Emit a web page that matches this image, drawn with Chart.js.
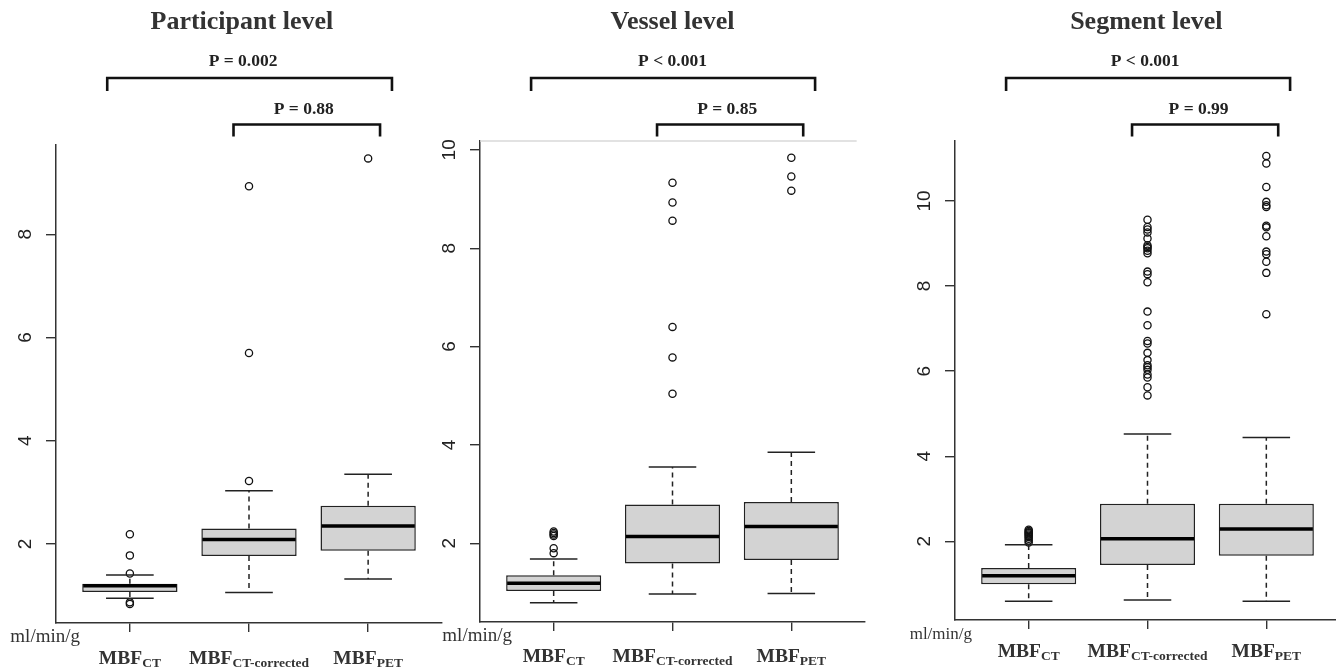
<!DOCTYPE html>
<html>
<head>
<meta charset="utf-8">
<script src="https://cdn.jsdelivr.net/npm/chart.js@4.4.1/dist/chart.umd.min.js"></script>
<style>
  body { margin: 0; background: #fff; overflow: hidden; width: 1336px; height: 667px; position: relative; }
  canvas { position: absolute; left: 0; top: 0; }
</style>
</head>
<body>
<canvas id="c1" width="1350" height="667"></canvas>
<canvas id="c2" width="1350" height="667"></canvas>
<canvas id="c3" width="1350" height="667"></canvas>
<script>
// groups on the x axis (MBF_CT, MBF_CT-corrected, MBF_PET)
const groupPos = [1, 2, 3];
const groupSubs = ["CT", "CT-corrected", "PET"];

// Participant level
const partLow = [0.95, 1.06, 1.32];
const partQ1 = [1.07, 1.77, 1.87];
const partMed = [1.19, 2.09, 2.35];
const partQ3 = [1.23, 2.30, 2.74];
const partHigh = [1.40, 3.03, 3.35];
const partOut = [[0.84, 0.87, 1.43, 1.78, 2.19], [3.22, 5.70, 8.93], [9.47]];
const partTicks = [2, 4, 6, 8];
const partP = ["P = 0.002", "P = 0.88"];

// Vessel level
const vesLow = [0.79, 0.97, 0.98];
const vesQ1 = [1.03, 1.59, 1.66];
const vesMed = [1.19, 2.14, 2.34];
const vesQ3 = [1.35, 2.79, 2.84];
const vesHigh = [1.68, 3.55, 3.85];
const vesOut = [[1.80, 1.90, 2.15, 2.18, 2.21, 2.24], [5.04, 5.78, 6.40, 8.56, 8.93, 9.33], [9.17, 9.46, 9.84]];
const vesTicks = [2, 4, 6, 8, 10];
const vesP = ["P < 0.001", "P = 0.85"];

// Segment level
const segLow = [0.59, 0.62, 0.59];
const segQ1 = [0.99, 1.44, 1.66];
const segMed = [1.19, 2.06, 2.29];
const segQ3 = [1.37, 2.88, 2.88];
const segHigh = [1.92, 4.52, 4.44];
const segOut = [
  [1.97, 2.02, 2.06, 2.10, 2.13, 2.16, 2.19, 2.21, 2.24, 2.27],
  [5.43, 5.62, 5.85, 5.92, 6.03, 6.09, 6.14, 6.26, 6.43, 6.65, 6.71, 7.08, 7.40,
   8.09, 8.28, 8.34, 8.77, 8.83, 8.89, 8.92, 8.96, 9.12, 9.26, 9.33, 9.39, 9.56],
  [7.34, 8.31, 8.57, 8.75, 8.81, 9.17, 9.38, 9.42, 9.86, 9.90, 9.98, 10.33, 10.88, 11.06]
];
const segTicks = [2, 4, 6, 8, 10];
const segP = ["P < 0.001", "P = 0.99"];

const CANVAS_W = 1350, CANVAS_H = 667;
const Y_AXIS_W = 50, X_AXIS_H = 30;
const SERIF = "'Liberation Serif', 'Times New Roman', serif";

function line(ctx, x1, y1, x2, y2) {
  ctx.beginPath();
  ctx.moveTo(x1, y1);
  ctx.lineTo(x2, y2);
  ctx.stroke();
}

// median, whiskers and caps drawn from the bar elements + y scale
function boxPlugin(p) {
  return {
    id: "boxParts",
    afterDatasetsDraw(chart) {
      const ctx = chart.ctx;
      const ys = chart.scales.y;
      const meta = chart.getDatasetMeta(1);
      ctx.save();
      meta.data.forEach((bar, i) => {
        const cx = bar.x;
        const hw = bar.width / 2;
        const yMed = ys.getPixelForValue(p.med[i]);
        const yQ1 = ys.getPixelForValue(p.q1[i]);
        const yQ3 = ys.getPixelForValue(p.q3[i]);
        const yLo = ys.getPixelForValue(p.low[i]);
        const yHi = ys.getPixelForValue(p.high[i]);

        ctx.strokeStyle = "#222";
        ctx.lineWidth = 1.5;
        ctx.setLineDash([5, 4]);
        line(ctx, cx, yQ3, cx, yHi);
        line(ctx, cx, yQ1, cx, yLo);
        ctx.setLineDash([]);
        line(ctx, cx - hw / 2, yHi, cx + hw / 2, yHi);
        line(ctx, cx - hw / 2, yLo, cx + hw / 2, yLo);

        ctx.strokeStyle = "#000";
        ctx.lineWidth = 3.5;
        line(ctx, cx - hw + 1, yMed, cx + hw - 1, yMed);
      });
      ctx.restore();
    }
  };
}

// titles, brackets, p-values and the subscript axis labels
function annotPlugin(p) {
  return {
    id: "annot",
    afterDraw(chart) {
      const ctx = chart.ctx;
      const xs = chart.scales.x;
      const area = chart.chartArea;
      ctx.save();

      if (p.topRule) {
        ctx.strokeStyle = "#d9d9d9";
        ctx.lineWidth = 1.5;
        line(ctx, area.left, area.top, xs.getPixelForValue(3.55), area.top);
      }

      ctx.fillStyle = "#333";
      ctx.textAlign = "center";
      ctx.textBaseline = "alphabetic";
      ctx.font = "bold 26px " + SERIF;
      ctx.fillText(p.title, xs.getPixelForValue(p.titleX), 29);

      // brackets
      ctx.strokeStyle = "#111";
      ctx.lineWidth = 2.6;
      const brackets = [
        { from: 0.81, to: 3.2, y: 78, drop: 13, text: p.pvals[0], tx: p.ptextX[0], ty: 66 },
        { from: 1.87, to: 3.1, y: 124.5, drop: 12, text: p.pvals[1], tx: p.ptextX[1], ty: 114 }
      ];
      brackets.forEach(b => {
        const x1 = xs.getPixelForValue(b.from);
        const x2 = xs.getPixelForValue(b.to);
        ctx.beginPath();
        ctx.moveTo(x1, b.y + b.drop);
        ctx.lineTo(x1, b.y);
        ctx.lineTo(x2, b.y);
        ctx.lineTo(x2, b.y + b.drop);
        ctx.stroke();
        ctx.fillStyle = "#222";
        ctx.font = "bold 17.5px " + SERIF;
        ctx.fillText(b.text, xs.getPixelForValue(b.tx), b.ty);
      });

      // x labels: MBF with subscript
      ctx.fillStyle = "#333";
      ctx.textAlign = "left";
      groupPos.forEach((g, i) => {
        const cx = xs.getPixelForValue(g);
        ctx.font = "bold 19.5px " + SERIF;
        const wMain = ctx.measureText("MBF").width;
        ctx.font = "bold 13.5px " + SERIF;
        const wSub = ctx.measureText(groupSubs[i]).width;
        const left = cx - (wMain + wSub) / 2;
        const base = area.bottom + p.labelOff;
        ctx.font = "bold 19.5px " + SERIF;
        ctx.fillText("MBF", left, base);
        ctx.font = "bold 13.5px " + SERIF;
        ctx.fillText(groupSubs[i], left + wMain, base + 3);
      });

      // unit label
      ctx.textAlign = "right";
      ctx.fillStyle = "#333";
      ctx.font = p.unitSize + "px " + SERIF;
      ctx.fillText("ml/min/g", area.left + p.unitRight, area.bottom + 19);

      ctx.restore();
    }
  };
}

function makePanel(id, p) {
  const a = p.area;
  const boxData = groupPos.map((g, i) => ({ x: g, y: [p.q1[i], p.q3[i]] }));
  const outData = [];
  p.out.forEach((vals, i) => vals.forEach(v => outData.push({ x: groupPos[i], y: v })));

  new Chart(document.getElementById(id), {
    type: "bar",
    data: {
      datasets: [
        {
          type: "scatter",
          data: outData,
          pointStyle: "circle",
          pointRadius: 3.6,
          pointBorderWidth: 1.3,
          pointBorderColor: "#111",
          pointBackgroundColor: "rgba(0,0,0,0)"
        },
        {
          type: "bar",
          data: boxData,
          backgroundColor: "#d3d3d3",
          borderColor: "#222",
          borderWidth: 1.5,
          borderSkipped: false,
          categoryPercentage: 0.8,
          barPercentage: 1
        }
      ]
    },
    options: {
      responsive: false,
      animation: false,
      events: [],
      layout: {
        padding: {
          left: a.left - Y_AXIS_W,
          right: CANVAS_W - a.right,
          top: a.top,
          bottom: CANVAS_H - a.bottom - X_AXIS_H
        }
      },
      plugins: { legend: { display: false }, tooltip: { enabled: false } },
      scales: {
        x: {
          type: "linear",
          min: 0.38,
          max: 3.62,
          offset: false,
          afterBuildTicks: s => { s.ticks = groupPos.map(v => ({ value: v })); },
          afterFit: s => { s.height = X_AXIS_H; },
          grid: { offset: false, drawOnChartArea: false, drawTicks: true, tickLength: 9, color: "#333", lineWidth: 1.4 },
          border: { display: true, color: "#333", width: 1.5 },
          ticks: { callback: () => "" }
        },
        y: {
          type: "linear",
          min: p.yMin,
          max: p.yMax,
          afterBuildTicks: s => { s.ticks = p.ticks.map(v => ({ value: v })); },
          afterFit: s => { s.width = Y_AXIS_W; },
          grid: { drawOnChartArea: false, drawTicks: true, tickLength: 10, color: "#333", lineWidth: 1.4 },
          border: { display: true, color: "#333", width: 1.5 },
          ticks: {
            minRotation: 90,
            maxRotation: 90,
            crossAlign: "center",
            padding: p.yPad,
            color: "#222",
            font: { family: "'Liberation Sans', Arial, sans-serif", size: 19 }
          }
        }
      }
    },
    plugins: [boxPlugin(p), annotPlugin(p)]
  });
}

makePanel("c1", {
  title: "Participant level", titleX: 1.94,
  low: partLow, q1: partQ1, med: partMed, q3: partQ3, high: partHigh, out: partOut,
  ticks: partTicks, pvals: partP, ptextX: [1.95, 2.46],
  yMin: 0.47, yMax: 9.73, yPad: 15,
  area: { left: 56, right: 442, top: 145, bottom: 623 },
  labelOff: 41, unitRight: 24, unitSize: 19, topRule: false
});

makePanel("c2", {
  title: "Vessel level", titleX: 2.0,
  low: vesLow, q1: vesQ1, med: vesMed, q3: vesQ3, high: vesHigh, out: vesOut,
  ticks: vesTicks, pvals: vesP, ptextX: [2.0, 2.46],
  yMin: 0.40, yMax: 10.18, yPad: 10,
  area: { left: 480, right: 865, top: 141, bottom: 622 },
  labelOff: 40, unitRight: 32, unitSize: 19, topRule: true
});

makePanel("c3", {
  title: "Segment level", titleX: 1.99,
  low: segLow, q1: segQ1, med: segMed, q3: segQ3, high: segHigh, out: segOut,
  ticks: segTicks, pvals: segP, ptextX: [1.98, 2.43],
  yMin: 0.15, yMax: 11.41, yPad: 10,
  area: { left: 955, right: 1340, top: 141, bottom: 620 },
  labelOff: 37, unitRight: 17, unitSize: 17, topRule: false
});
</script>
</body>
</html>
